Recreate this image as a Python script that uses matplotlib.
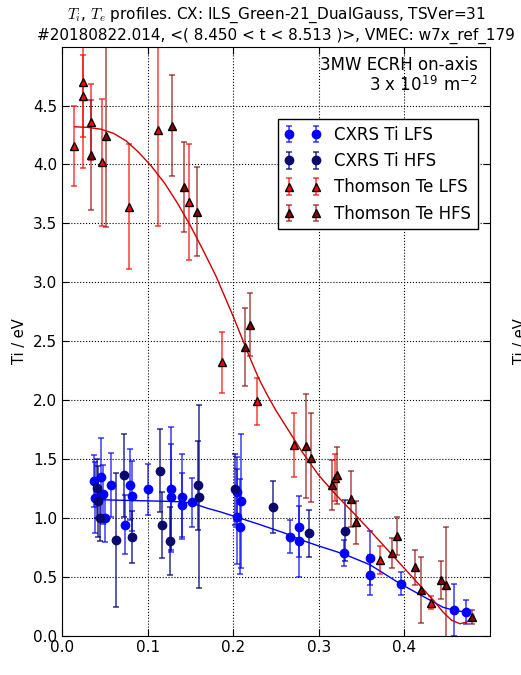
import matplotlib
matplotlib.use("Agg")
import matplotlib.pyplot as plt

# CXRS ion temperature, low field side
cx_lfs_rho = [0.0374, 0.039, 0.0455, 0.0475, 0.0498, 0.0572, 0.074, 0.0798, 0.0818, 0.1004,
              0.1277, 0.1277, 0.1397, 0.1397, 0.1518, 0.2044, 0.205, 0.2087, 0.2075, 0.266,
              0.2768, 0.2768, 0.329, 0.3594, 0.3594, 0.3964, 0.4575, 0.472]
cx_lfs_ti = [1.31, 1.17, 1.35, 1.20, 0.995, 1.28, 0.94, 1.28, 1.185, 1.24,
             1.24, 1.18, 1.18, 1.11, 1.13, 1.22, 1.01, 1.145, 0.925, 0.84,
             0.925, 0.80, 0.70, 0.655, 0.515, 0.44, 0.215, 0.20]
cx_lfs_err = [0.22, 0.30, 0.33, 0.25, 0.20, 0.27, 0.25, 0.30, 0.30, 0.22,
              0.53, 0.45, 0.36, 0.27, 0.21, 0.30, 0.40, 0.57, 0.40, 0.14,
              0.26, 0.30, 0.11, 0.23, 0.17, 0.10, 0.22, 0.10]

# CXRS ion temperature, high field side
cx_hfs_rho = [0.041, 0.042, 0.0447, 0.0634, 0.072, 0.0813, 0.1145, 0.1164, 0.1265, 0.1585,
              0.1604, 0.2017, 0.246, 0.2889, 0.331]
cx_hfs_ti = [1.25, 1.14, 1.00, 0.81, 1.36, 0.84, 1.40, 0.94, 0.80, 1.275,
             1.18, 1.24, 1.09, 0.87, 0.89]
cx_hfs_err = [0.25, 0.30, 0.20, 0.57, 0.35, 0.22, 0.35, 0.28, 0.29, 0.38,
              0.78, 0.30, 0.22, 0.20, 0.26]

# Thomson electron temperature, low field side
ts_lfs_rho = [0.0144, 0.025, 0.025, 0.0335, 0.0467, 0.078, 0.112, 0.1487, 0.187, 0.228,
              0.2714, 0.3185, 0.372, 0.431]
ts_lfs_te = [4.16, 4.70, 4.58, 4.36, 4.02, 3.64, 4.29, 3.68, 2.32, 1.99,
             1.62, 1.34, 0.64, 0.28]
ts_lfs_err = [0.34, 0.73, 0.35, 0.32, 0.54, 0.53, 0.81, 0.49, 0.26, 0.20,
              0.27, 0.20, 0.12, 0.055]

# Thomson electron temperature, high field side
ts_hfs_rho = [0.0335, 0.0518, 0.1285, 0.142, 0.158, 0.2133, 0.22, 0.2846, 0.291, 0.316,
              0.3216, 0.3376, 0.3434, 0.3855, 0.3913, 0.412, 0.4197, 0.4428, 0.4486, 0.479]
ts_hfs_te = [4.08, 4.24, 4.33, 3.81, 3.60, 2.45, 2.64, 1.61, 1.51, 1.28,
             1.36, 1.16, 0.96, 0.70, 0.845, 0.58, 0.39, 0.47, 0.43, 0.155]
ts_hfs_err = [0.47, 0.77, 0.43, 0.38, 0.38, 0.33, 0.27, 0.44, 0.38, 0.21,
              0.24, 0.24, 0.18, 0.13, 0.16, 0.15, 0.28, 0.16, 0.49, 0.06]

# fitted profiles
ti_fit_rho = [0.038, 0.06, 0.09, 0.12, 0.14, 0.15, 0.16, 0.17, 0.185, 0.20,
              0.215, 0.232, 0.26, 0.28, 0.30, 0.33, 0.36, 0.395, 0.43, 0.445,
              0.46, 0.473]
ti_fit = [1.155, 1.15, 1.145, 1.14, 1.135, 1.125, 1.105, 1.08, 1.05, 1.015,
          0.98, 0.94, 0.87, 0.81, 0.76, 0.69, 0.60, 0.44, 0.30, 0.24,
          0.21, 0.20]
te_fit_rho = [0.015, 0.03, 0.045, 0.06, 0.075, 0.09, 0.105, 0.12, 0.135, 0.15,
              0.165, 0.18, 0.19, 0.20, 0.21, 0.22, 0.23, 0.24, 0.25, 0.26,
              0.28, 0.30, 0.32, 0.34, 0.36, 0.38, 0.40, 0.42, 0.435, 0.445,
              0.455, 0.465, 0.473, 0.481]
te_fit = [4.32, 4.315, 4.30, 4.265, 4.20, 4.10, 3.98, 3.84, 3.67, 3.48,
          3.27, 3.05, 2.88, 2.71, 2.53, 2.35, 2.18, 2.04, 1.91, 1.795,
          1.565, 1.36, 1.195, 1.045, 0.89, 0.73, 0.57, 0.41, 0.29, 0.20,
          0.13, 0.10, 0.115, 0.174]

plt.rcParams['mathtext.fontset'] = 'cm'
plt.rcParams['font.size'] = 10.5

fig = plt.figure(figsize=(5.21, 6.75), dpi=100)
ax = fig.add_axes([0.119, 0.0585, 0.8215, 0.8723])

eb = dict(capsize=2.5, elinewidth=1.2, capthick=1.2, linestyle='none')
h1 = ax.errorbar(cx_lfs_rho, cx_lfs_ti, yerr=cx_lfs_err, fmt='o', color='#0000ff',
                 ecolor=(0, 0, 1, 0.7), ms=6, mec='#0000ff', label='CXRS Ti LFS', **eb)
h2 = ax.errorbar(cx_hfs_rho, cx_hfs_ti, yerr=cx_hfs_err, fmt='o', color='#0a0a6e',
                 ecolor=(0.0, 0.0, 0.5, 0.75), ms=6, mec='#0a0a6e', label='CXRS Ti HFS', **eb)
h3 = ax.errorbar(ts_lfs_rho, ts_lfs_te, yerr=ts_lfs_err, fmt='^', color='red', mfc='red',
                 mec='black', ecolor=(1, 0, 0, 0.7), ms=6, label='Thomson Te LFS', **eb)
h4 = ax.errorbar(ts_hfs_rho, ts_hfs_te, yerr=ts_hfs_err, fmt='^', color='#8b0000', mfc='#8b0000',
                 mec='black', ecolor=(0.55, 0, 0, 0.65), ms=6, label='Thomson Te HFS', **eb)

ax.plot(ti_fit_rho, ti_fit, color='#0000ff', lw=1.0)
ax.plot(te_fit_rho, te_fit, color='#cc0000', lw=1.0)

ax.set_xlim(0, 0.5)
ax.set_ylim(0, 5.0)
ax.set_xticks([0.0, 0.1, 0.2, 0.3, 0.4])
ax.set_yticks([0.0, 0.5, 1.0, 1.5, 2.0, 2.5, 3.0, 3.5, 4.0, 4.5])
ax.tick_params(direction='in', top=True, right=True, length=5, labelsize=11)
ax.grid(True, linestyle=':', color='black', lw=0.8)
ax.set_ylabel('Ti / eV', fontsize=10.5)

ax.set_title('$T_i$, $T_e$ profiles. CX: ILS_Green-21_DualGauss, TSVer=31\n'
             '#20180822.014, <( 8.450 < t < 8.513 )>, VMEC: w7x_ref_179',
             fontsize=11, pad=5)

ax.text(0.972, 0.985, '3MW ECRH on-axis\n3 x 10$^{\\mathregular{19}}$ m$^{\\mathregular{-2}}$',
        transform=ax.transAxes, ha='right', va='top', fontsize=12, linespacing=1.1)

leg = ax.legend(handles=[h1, h2, h3, h4], numpoints=2, loc='upper right',
                bbox_to_anchor=(0.972, 0.877), fontsize=12, fancybox=False,
                framealpha=1, edgecolor='black', borderaxespad=0, handlelength=2.2)
leg.get_frame().set_linewidth(1.0)

# label of the neighbouring panel, cut by the figure edge
fig.text(0.985, 0.495, 'Ti / eV', rotation=90, ha='left', va='center', fontsize=10.5)

fig.savefig('out.png', dpi=100)
